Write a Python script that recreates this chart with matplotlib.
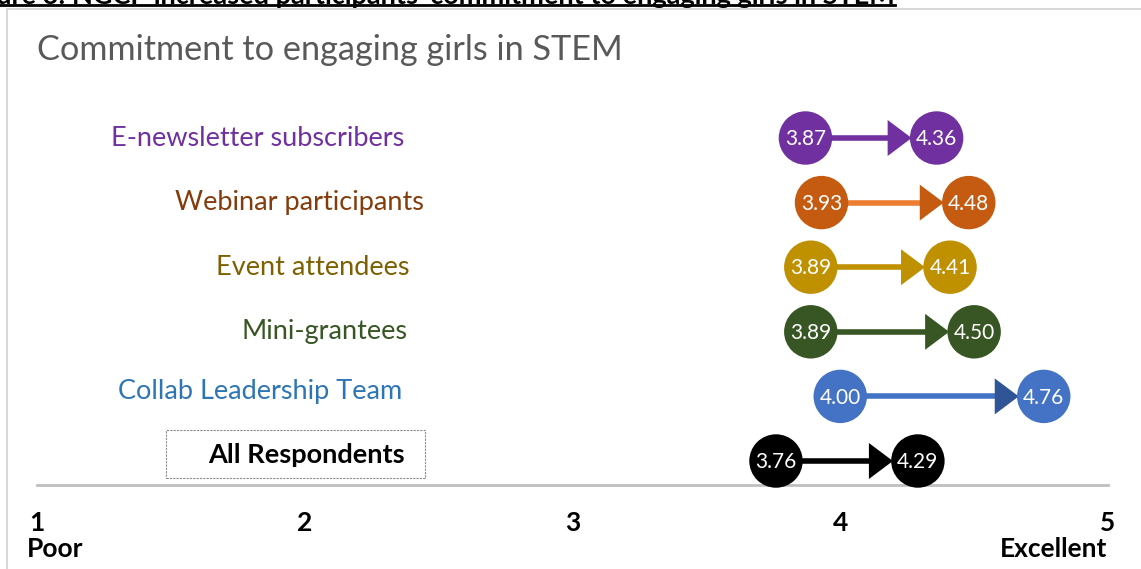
import numpy as np
import matplotlib.pyplot as plt
from matplotlib.patches import Rectangle

plt.rcParams['font.family'] = ['Lato', 'DejaVu Sans']

# data
groups = ['E-newsletter subscribers', 'Webinar participants', 'Event attendees',
          'Mini-grantees', 'Collab Leadership Team', 'All Respondents']
before = [3.87, 3.93, 3.89, 3.89, 4.00, 3.76]
after = [4.36, 4.48, 4.41, 4.50, 4.76, 4.29]
scale_ticks = [1, 2, 3, 4, 5]

# styles
dot_colors = ['#7030A0', '#C55A11', '#BF9000', '#375623', '#4472C4', '#000000']
shaft_colors = ['#7030A0', '#ED7D31', '#BF9000', '#375623', '#4472C4', '#000000']
head_colors = ['#7030A0', '#C55A11', '#BF9000', '#375623', '#2F5597', '#000000']
label_colors = ['#7030A0', '#843C0C', '#7F6000', '#375623', '#2E75B6', '#000000']
label_right = [404, 424, 409, 407, 402, 405]   # pixel right edge of each label
label_dy = [0, 0, 0, 0, -5, -6]

W, H = 1141, 569
fig = plt.figure(figsize=(W / 100, H / 100), dpi=100)
ax = fig.add_axes([0, 0, 1, 1])

# pixel mapping: x=1 at 37px, x=5 at 1108px; row 0 at 138px, spacing 64.6px
ux = (1108 - 37) / 4.0
uy = 64.6
ax.set_xlim(1 - 37 / ux, 5 + (W - 1108) / ux)
ax.set_ylim((H - 138) / uy, -138 / uy)
ax.axis('off')

r = 27 / ux          # circle radius in data units
hl = 22 / ux         # arrow head length
hw = 18 / uy         # arrow head half height

rows = np.arange(len(groups))
for i in rows:
    s, e = before[i], after[i]
    base = e - r - hl
    ax.plot([s, base + 0.005], [i, i], color=shaft_colors[i], lw=4, zorder=2,
            solid_capstyle='butt')
    ax.fill([base, e - r + 2 / ux, base], [i - hw, i, i + hw],
            color=head_colors[i], zorder=3, lw=0)

ax.scatter(before, rows, s=1480, c=dot_colors, zorder=4, linewidths=0)
ax.scatter(after, rows, s=1480, c=dot_colors, zorder=4, linewidths=0)
for i in rows:
    for v in (before[i], after[i]):
        ax.text(v, i + 0.02, f'{v:.2f}', color='white', fontsize=15,
                ha='center', va='center', zorder=5)

def fx(px):
    return px / W

def fy(py):
    return 1 - py / H

# group labels
for i in rows:
    bold = groups[i] == 'All Respondents'
    fig.text(fx(label_right[i]), fy(138 + i * uy + label_dy[i]), groups[i],
             color=label_colors[i], fontsize=19.5, ha='right', va='center',
             fontweight='bold' if bold else 'normal')

# dashed box around "All Respondents"
fig.patches.append(Rectangle((fx(166), fy(478)), fx(425 - 166), (478 - 430) / H,
                             transform=fig.transFigure, fill=False,
                             edgecolor='#8C8C8C', lw=0.8, ls=(0, (2, 1))))

# baseline
ax.plot([scale_ticks[0], scale_ticks[-1]], [(485 - 138) / uy] * 2,
        color='#BFBFBF', lw=2, zorder=1)

# scale labels
for t in scale_ticks:
    ax.text(t, (523 - 138) / uy, str(t), fontsize=19, fontweight='bold',
            ha='center', va='center')
fig.text(fx(27), fy(549), 'Poor', fontsize=19, fontweight='bold', ha='left', va='center')
fig.text(fx(1107), fy(549), 'Excellent', fontsize=19, fontweight='bold',
         ha='right', va='center')

# title
fig.text(fx(37), fy(50), 'Commitment to engaging girls in STEM', fontsize=24.7,
         color='#595959', ha='left', va='center')

# chart frame
fig.patches.append(Rectangle((fx(7), -0.1), 1.2, fy(9) + 0.1,
                             transform=fig.transFigure, fill=False,
                             edgecolor='#D9D9D9', lw=1.5))

# clipped document caption above the chart
fig.text(fx(895), fy(3.5), "Figure 3: NGCP increased participants' commitment to engaging girls in STEM",
         fontsize=19.5, fontweight='bold', ha='right', va='baseline')
fig.add_artist(plt.Line2D([0, fx(895)], [fy(5), fy(5)], transform=fig.transFigure,
                          color='black', lw=2))

fig.savefig('out.png', dpi=100)
